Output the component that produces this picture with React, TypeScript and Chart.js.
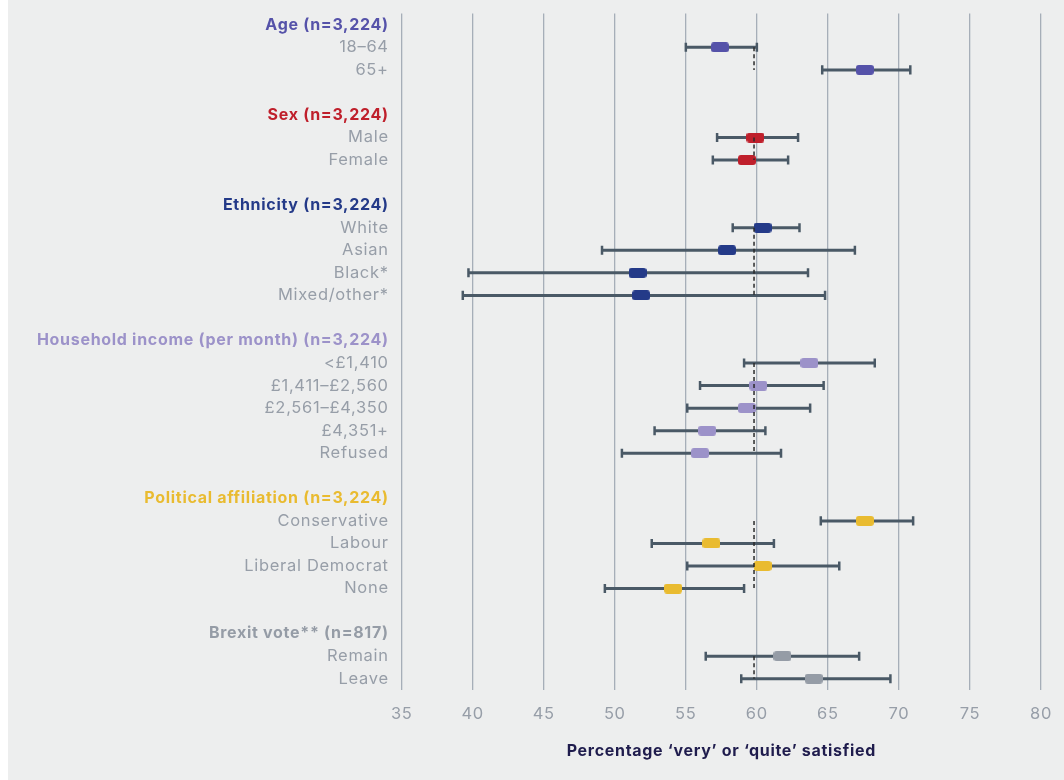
import React, { useEffect, useRef } from 'react';
import { Chart, registerables } from 'chart.js';

Chart.register(...registerables);

// ---- data ----
const groupTitles = [
  'Age (n=3,224)',
  'Sex (n=3,224)',
  'Ethnicity (n=3,224)',
  'Household income (per month) (n=3,224)',
  'Political affiliation (n=3,224)',
  'Brexit vote** (n=817)',
];
const groupColors = ['#5552a9', '#bf1f2b', '#243a88', '#9c92c9', '#e9bb30', '#959ca6'];

const categories = [
  '18–64', '65+',
  'Male', 'Female',
  'White', 'Asian', 'Black*', 'Mixed/other*',
  '<£1,410', '£1,411–£2,560', '£2,561–£4,350', '£4,351+', 'Refused',
  'Conservative', 'Labour', 'Liberal Democrat', 'None',
  'Remain', 'Leave',
];
const categoryGroup = [0, 0, 1, 1, 2, 2, 2, 2, 3, 3, 3, 3, 3, 4, 4, 4, 4, 5, 5];
const estimates = [57.4, 67.6, 59.9, 59.3, 60.4, 57.9, 51.6, 51.85, 63.7, 60.1, 59.3, 56.5, 56.0, 67.6, 56.8, 60.4, 54.1, 61.8, 64.0];
const lowerCI = [55.0, 64.6, 57.2, 56.9, 58.3, 49.1, 39.7, 39.3, 59.1, 56.0, 55.1, 52.8, 50.5, 64.5, 52.6, 55.1, 49.3, 56.4, 58.9];
const upperCI = [60.0, 70.8, 62.9, 62.2, 63.0, 66.9, 63.6, 64.8, 68.3, 64.7, 63.75, 60.6, 61.7, 71.0, 61.2, 65.8, 59.1, 67.2, 69.4];
const overallAverage = 59.8;
const xMin = 35;
const xMax = 80;
const xStep = 5;
const axisTitle = 'Percentage ‘very’ or ‘quite’ satisfied';

const FONT = "Inter, 'Noto Sans', sans-serif";
const LABEL_GREY = '#979ea8';
const BAR_COLOR = '#4a5966';

type Row = { label: string; color: string; bold: boolean };

function buildRows() {
  const rows: Row[] = [];
  const catRow: number[] = [];
  const groupSpan: [number, number][] = [];
  groupTitles.forEach((t, g) => {
    if (g > 0) rows.push({ label: '', color: LABEL_GREY, bold: false });
    rows.push({ label: t, color: groupColors[g], bold: true });
    let first = -1;
    let last = -1;
    categories.forEach((c, i) => {
      if (categoryGroup[i] !== g) return;
      catRow[i] = rows.length;
      if (first < 0) first = rows.length;
      last = rows.length;
      rows.push({ label: c, color: LABEL_GREY, bold: false });
    });
    groupSpan.push([first, last]);
  });
  return { rows, catRow, groupSpan };
}

function makeMarker(color: string) {
  const c = document.createElement('canvas');
  c.width = 18;
  c.height = 10;
  const ctx = c.getContext('2d')!;
  ctx.fillStyle = color;
  ctx.beginPath();
  (ctx as any).roundRect(0, 0, 18, 10, 3);
  ctx.fill();
  return c;
}

const spacingPlugin = {
  id: 'letterSpacing',
  beforeLayout(chart: any) {
    chart.ctx.letterSpacing = '0.7px';
  },
  beforeDraw(chart: any) {
    chart.ctx.letterSpacing = '0.7px';
  },
};

export default function App() {
  const ref = useRef<HTMLCanvasElement>(null);

  useEffect(() => {
    if (!ref.current) return;
    const { rows, catRow, groupSpan } = buildRows();

    const whiskers: any[] = [];
    const caps: any[] = [];
    categories.forEach((_, i) => {
      const y = catRow[i];
      whiskers.push({ x: lowerCI[i], y }, { x: upperCI[i], y }, { x: null, y });
      caps.push({ x: lowerCI[i], y: y - 0.2 }, { x: lowerCI[i], y: y + 0.2 }, { x: null, y });
      caps.push({ x: upperCI[i], y: y - 0.2 }, { x: upperCI[i], y: y + 0.2 }, { x: null, y });
    });

    const datasets: any[] = [];
    groupSpan.forEach(([a, b]) => {
      datasets.push({
        type: 'line',
        data: [{ x: overallAverage, y: a }, { x: overallAverage, y: b }],
        borderColor: '#2a2a2a',
        borderWidth: 1.5,
        borderDash: [4, 3],
        pointRadius: 0,
        order: 0,
      });
    });
    groupTitles.forEach((_, g) => {
      const img = makeMarker(groupColors[g]);
      datasets.push({
        type: 'scatter',
        data: categories
          .map((_, i) => i)
          .filter((i) => categoryGroup[i] === g)
          .map((i) => ({ x: estimates[i], y: catRow[i] })),
        pointStyle: img,
        pointRadius: 9,
        order: 1,
      });
    });
    datasets.push({
      type: 'line',
      data: caps,
      borderColor: BAR_COLOR,
      borderWidth: 2.5,
      pointRadius: 0,
      spanGaps: false,
      order: 2,
    });
    datasets.push({
      type: 'line',
      data: whiskers,
      borderColor: BAR_COLOR,
      borderWidth: 3,
      borderCapStyle: 'butt',
      pointRadius: 0,
      spanGaps: false,
      order: 3,
    });

    const chart = new Chart(ref.current, {
      type: 'scatter',
      data: { datasets },
      plugins: [spacingPlugin],
      options: {
        animation: false,
        responsive: false,
        layout: { padding: { top: 13.5, right: 23, left: 0, bottom: 0 } },
        plugins: { legend: { display: false }, tooltip: { enabled: false } },
        scales: {
          x: {
            type: 'linear',
            min: xMin,
            max: xMax,
            afterFit: (s: any) => {
              s.height = 90;
              s.paddingLeft = 0;
              s.paddingRight = 0;
            },
            grid: { color: '#a6aeb8', lineWidth: 1.3, drawTicks: false },
            border: { display: false },
            ticks: {
              stepSize: xStep,
              color: LABEL_GREY,
              padding: 14,
              font: { family: FONT, size: 16.5 },
            },
            title: {
              display: true,
              text: axisTitle,
              color: '#1f1c4d',
              font: { family: FONT, size: 16, weight: 'bold' },
              padding: { top: 0, bottom: 19 },
            },
          },
          y: {
            type: 'linear',
            reverse: true,
            min: -0.5,
            max: rows.length - 0.5,
            afterFit: (s: any) => {
              s.width = 393.7;
              s.paddingTop = 0;
              s.paddingBottom = 0;
            },
            afterBuildTicks: (s: any) => {
              s.ticks = rows.map((_, i) => ({ value: i }));
            },
            grid: { display: false, drawTicks: false },
            border: { display: false },
            ticks: {
              autoSkip: false,
              padding: 13,
              callback: (v: any) => rows[v]?.label ?? '',
              color: (ctx: any) => rows[ctx.index]?.color ?? LABEL_GREY,
              font: (ctx: any) => ({
                family: FONT,
                size: rows[ctx.index]?.bold ? 16 : 16.5,
                weight: rows[ctx.index]?.bold ? 'bold' : 'normal',
              }),
            },
          },
        },
      } as any,
    });
    return () => chart.destroy();
  }, []);

  return (
    <div
      style={{
        position: 'absolute',
        left: 8,
        top: 0,
        width: 1056,
        height: 780,
        background: '#edeeee',
      }}
    >
      <canvas ref={ref} width={1056} height={780} style={{ display: 'block' }} />
    </div>
  );
}
